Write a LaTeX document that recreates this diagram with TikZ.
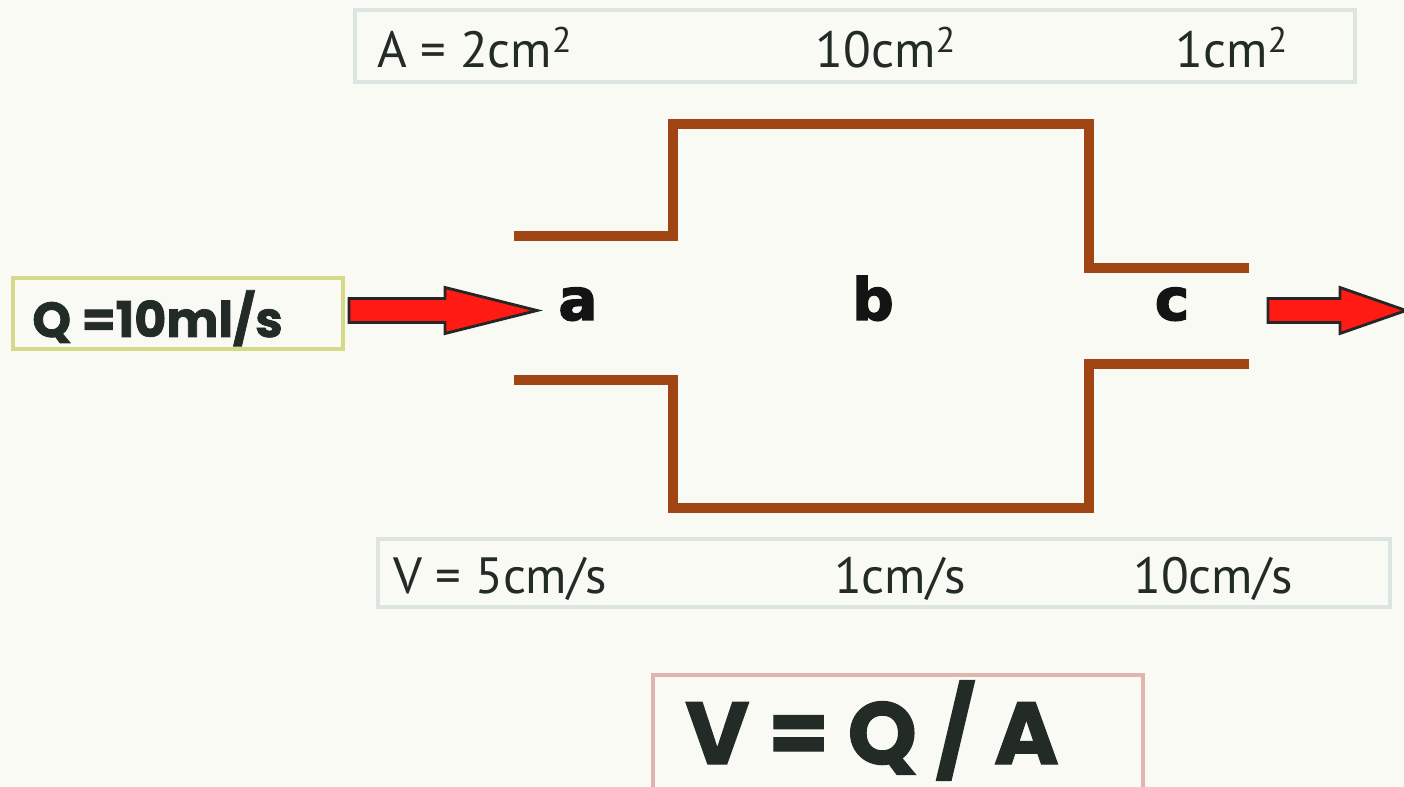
\documentclass[tikz,border=0pt]{standalone}
\usepackage{fontspec}
\setmainfont{PT Sans}
\newfontfamily\heavyfont{Poppins}[BoldFeatures={FakeBold=1.5}]
\newfontfamily\letterfont{DejaVu Sans}[BoldFeatures={FakeBold=2.5}]
\usepackage{tikz}
\usetikzlibrary{
  calc,%
  positioning
}
\definecolor{paper}{HTML}{FAFAF5}
\definecolor{areaframe}{HTML}{DCE5E2}
\definecolor{flowframe}{HTML}{D4DA88}
\definecolor{lawframe}{HTML}{E0B5AD}
\definecolor{pipebrown}{HTML}{A24514}
\definecolor{flowred}{HTML}{FF1B14}
\definecolor{ink}{HTML}{232B26}
\tikzset{x=0.02cm, y=-0.02cm}
\tikzset{
  frame/.style={draw, line width=2.3pt, inner sep=0pt},
  quantity/.style={text=ink, inner sep=0pt, anchor=base,
    font=\fontsize{29}{34}\selectfont},
  section/.style={text=black!92, inner sep=0pt, anchor=base,
    font=\letterfont\bfseries\fontsize{33}{38}\selectfont},
  pipe/.style={pipebrown, line width=5.7pt, line join=miter},
  flowarrow/.style={fill=flowred, draw=black!85, line width=1.6pt,
    line join=miter}
}

\begin{document}
\begin{tikzpicture}
  \path[use as bounding box, fill=paper] (0,0) rectangle (1404,787);

  % cross-section areas
  \node[frame, draw=areaframe, minimum width=20cm, minimum height=1.44cm]
    (areas) at (855,46) {};
  \node[quantity, anchor=base west] (areaa) at (377,68) {A = 2cm\textsuperscript{2}};
  \node[quantity] (areab) at (886,68) {10cm\textsuperscript{2}};
  \node[quantity] (areac) at (1232,68) {1cm\textsuperscript{2}};

  % the pipe
  \draw[pipe] (514,236) -- (673,236) -- (673,124) -- (1089,124)
    -- (1089,268) -- (1249,268);
  \draw[pipe] (514,380) -- (673,380) -- (673,508) -- (1089,508)
    -- (1089,364) -- (1249,364);
  \node[section] (a) at (578,320) {a};
  \node[section] (b) at (873,320) {b};
  \node[section] (c) at (1172,320) {c};

  % flow in and out
  \node[frame, draw=flowframe, minimum width=6.6cm, minimum height=1.42cm]
    (flow) at (178,313.5) {};
  \node[text=ink, inner sep=0pt, anchor=base west,
    font=\heavyfont\bfseries\fontsize{28}{34}\selectfont]
    (flowtext) at (32,337) {Q =10ml/s};
  \coordinate (inflow) at (349,310.5);
  \coordinate (outflow) at (1268,310.5);
  \draw[flowarrow] (inflow) -- ++(0,-12) -- ++(96,0) -- ++(0,-11)
    -- ++(92,23) -- ++(-92,23) -- ++(0,-11) -- ++(-96,0) -- cycle;
  \draw[flowarrow] (outflow) -- ++(0,-12) -- ++(72,0) -- ++(0,-11)
    -- ++(66,23) -- ++(-66,23) -- ++(0,-11) -- ++(-72,0) -- cycle;

  % velocities
  \node[frame, draw=areaframe, minimum width=20.24cm, minimum height=1.36cm]
    (speeds) at (884,573) {};
  \node[quantity, anchor=base west] (speeda) at (393,593) {V = 5cm/s};
  \node[quantity] (speedb) at (900,593) {1cm/s};
  \node[quantity] (speedc) at (1213,593) {10cm/s};

  % continuity
  \node[frame, draw=lawframe, line width=1.8pt, minimum width=9.8cm,
    minimum height=2.6cm] (law) at (898,740) {};
  \node[text=ink, inner sep=0pt, anchor=base,
    font=\heavyfont\bfseries\fontsize{50}{58}\selectfont]
    (lawtext) at (872,764) {V = Q / A};
\end{tikzpicture}
\end{document}
